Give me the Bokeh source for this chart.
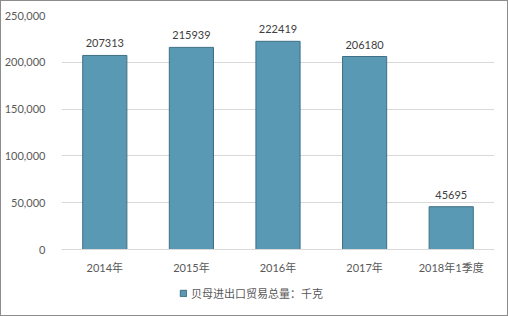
from bokeh.plotting import figure
from bokeh.layouts import column
from bokeh.models import ColumnDataSource, NumeralTickFormatter, Legend, LegendItem, FixedTicker, Range1d
from bokeh.core.properties import value
from bokeh.embed import file_html
from bokeh.resources import INLINE

categories = ["2014年", "2015年", "2016年", "2017年", "2018年1季度"]
values = [207313, 215939, 222419, 206180, 45695]
labels = [str(v) for v in values]
series_name = "贝母进出口贸易总量：千克"
y_ticks = [0, 50000, 100000, 150000, 200000, 250000]

FONT = "Lato, 'Noto Sans CJK SC'"
BAR_FILL = "#5a99b4"
BAR_LINE = "#3f6f84"

src = ColumnDataSource(dict(cat=categories, val=values, lab=labels))

p = figure(x_range=categories, y_range=Range1d(0, 250000),
           width=506, height=279,
           output_backend="svg", toolbar_location=None,
           min_border_left=60, min_border_right=13, min_border_top=14, min_border_bottom=31)
p.outline_line_color = None
p.background_fill_color = "white"
p.border_fill_color = "white"

r = p.vbar(x="cat", top="val", width=0.51, source=src, fill_color=BAR_FILL,
           line_color=BAR_LINE, line_width=1)
p.text(x="cat", y="val", text="lab", source=src, text_align="center", text_baseline="bottom",
       y_offset=-8, text_font=value(FONT), text_font_size="11px", text_color="#404040")

p.yaxis.ticker = FixedTicker(ticks=y_ticks)
p.yaxis.formatter = NumeralTickFormatter(format="0,0")
p.yaxis.axis_line_color = None
p.yaxis.major_tick_line_color = None
p.yaxis.minor_tick_line_color = None
p.yaxis.major_label_text_font = FONT
p.yaxis.major_label_text_font_size = "11px"
p.yaxis.major_label_text_color = "#595959"
p.yaxis.major_label_standoff = 10

p.xaxis.axis_line_color = "#d9d9d9"
p.xaxis.major_tick_line_color = None
p.xaxis.minor_tick_line_color = None
p.xaxis.major_label_text_font = FONT
p.xaxis.major_label_text_font_size = "11px"
p.xaxis.major_label_text_color = "#595959"
p.xaxis.major_label_standoff = 5

p.xgrid.grid_line_color = None
p.ygrid.grid_line_color = "#d9d9d9"
p.ygrid.ticker = FixedTicker(ticks=y_ticks)

# legend strip below the chart
p2 = figure(x_range=categories, y_range=Range1d(-10, -5), width=506, height=35,
            output_backend="svg", toolbar_location=None,
            min_border_left=0, min_border_right=0, min_border_top=0, min_border_bottom=0)
p2.axis.visible = False
p2.grid.visible = False
p2.outline_line_color = None
r2 = p2.vbar(x="cat", top="val", width=0.51, source=src, fill_color=BAR_FILL,
             line_color=BAR_LINE, line_width=1)
r2.visible = False
legend = Legend(items=[LegendItem(label=series_name, renderers=[r2])], location=(118, 14),
                orientation="horizontal", border_line_color=None, background_fill_alpha=0,
                label_text_font=FONT, label_text_font_size="11px", label_text_color="#595959",
                glyph_width=8, glyph_height=8, label_standoff=4, padding=0, margin=0,
                label_height=14, inactive_fill_alpha=0, click_policy="none")
p2.add_layout(legend, "center")

layout = column(p, p2, spacing=0, styles={"border": "1px solid #8c8c8c"})

open("out.html", "w").write(file_html(layout, INLINE))
